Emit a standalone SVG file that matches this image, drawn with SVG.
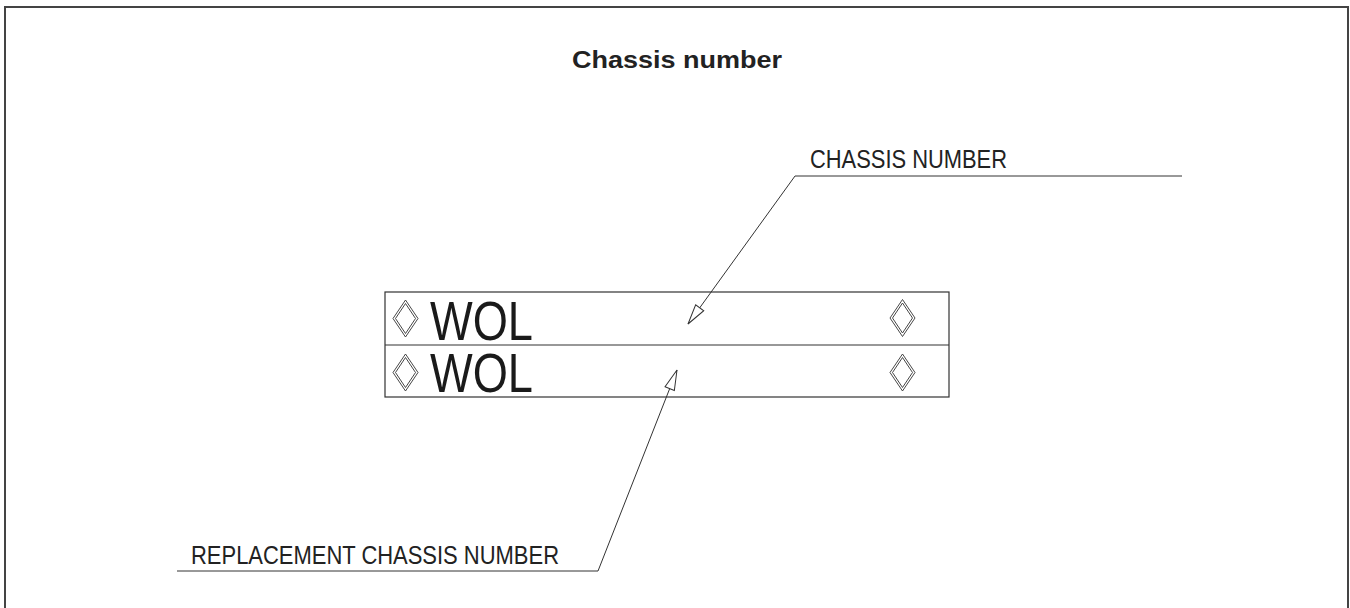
<svg xmlns="http://www.w3.org/2000/svg" width="1350" height="608" viewBox="0 0 1350 608">
<style>
.lbl{font-family:"Liberation Sans",Arial,sans-serif;fill:#222}
.title{font-family:"Liberation Sans",Arial,sans-serif;font-weight:bold;font-size:24px;fill:#222}
.wol{font-family:"Liberation Sans",Arial,sans-serif;font-size:56px;fill:#1a1a1a}
.box{fill:none;stroke:#333;stroke-width:1.2}
.dia{fill:none;stroke:#333;stroke-width:0.9}
.lead{fill:none;stroke:#333;stroke-width:1}
</style>
<defs>
<marker id="arr" markerUnits="userSpaceOnUse" markerWidth="24" markerHeight="14" refX="22" refY="6" orient="auto">
<path d="M22,6 L2,1 L2,11 Z" fill="#fff" stroke="#333" stroke-width="1"/>
</marker>
<g id="diamond">
<polygon points="0,-18.5 12.5,0 0,18.5 -12.5,0" class="dia"/>
<polygon points="0,-15 10,0 0,15 -10,0" class="dia"/>
</g>
</defs>
<rect x="5" y="7" width="1343" height="620" fill="none" stroke="#444" stroke-width="2"/>
<text class="title" x="677" y="68" text-anchor="middle" textLength="210" lengthAdjust="spacingAndGlyphs">Chassis number</text>
<g id="plate">
<rect x="385" y="292" width="564" height="105" class="box"/>
<line x1="385" y1="345" x2="949" y2="345" class="box"/>
<use href="#diamond" x="405.5" y="318.5"/>
<use href="#diamond" x="902.5" y="318"/>
<use href="#diamond" x="405.5" y="372.5"/>
<use href="#diamond" x="902.5" y="372.5"/>
<text class="wol" x="430" y="340" textLength="103" lengthAdjust="spacingAndGlyphs">WOL</text>
<text class="wol" x="430" y="392" textLength="103" lengthAdjust="spacingAndGlyphs">WOL</text>
</g>
<g id="label-chassis">
<text class="lbl" x="810" y="168" font-size="26" textLength="197" lengthAdjust="spacingAndGlyphs">CHASSIS NUMBER</text>
</g>
<g id="label-replacement">
<text class="lbl" x="191" y="564" font-size="26" textLength="368" lengthAdjust="spacingAndGlyphs">REPLACEMENT CHASSIS NUMBER</text>
</g>
<g id="connectors">
<polyline points="1182,176 795,176 688,324" class="lead" marker-end="url(#arr)"/>
<polyline points="177,571 598,571 677,370" class="lead" marker-end="url(#arr)"/>
</g>
</svg>
